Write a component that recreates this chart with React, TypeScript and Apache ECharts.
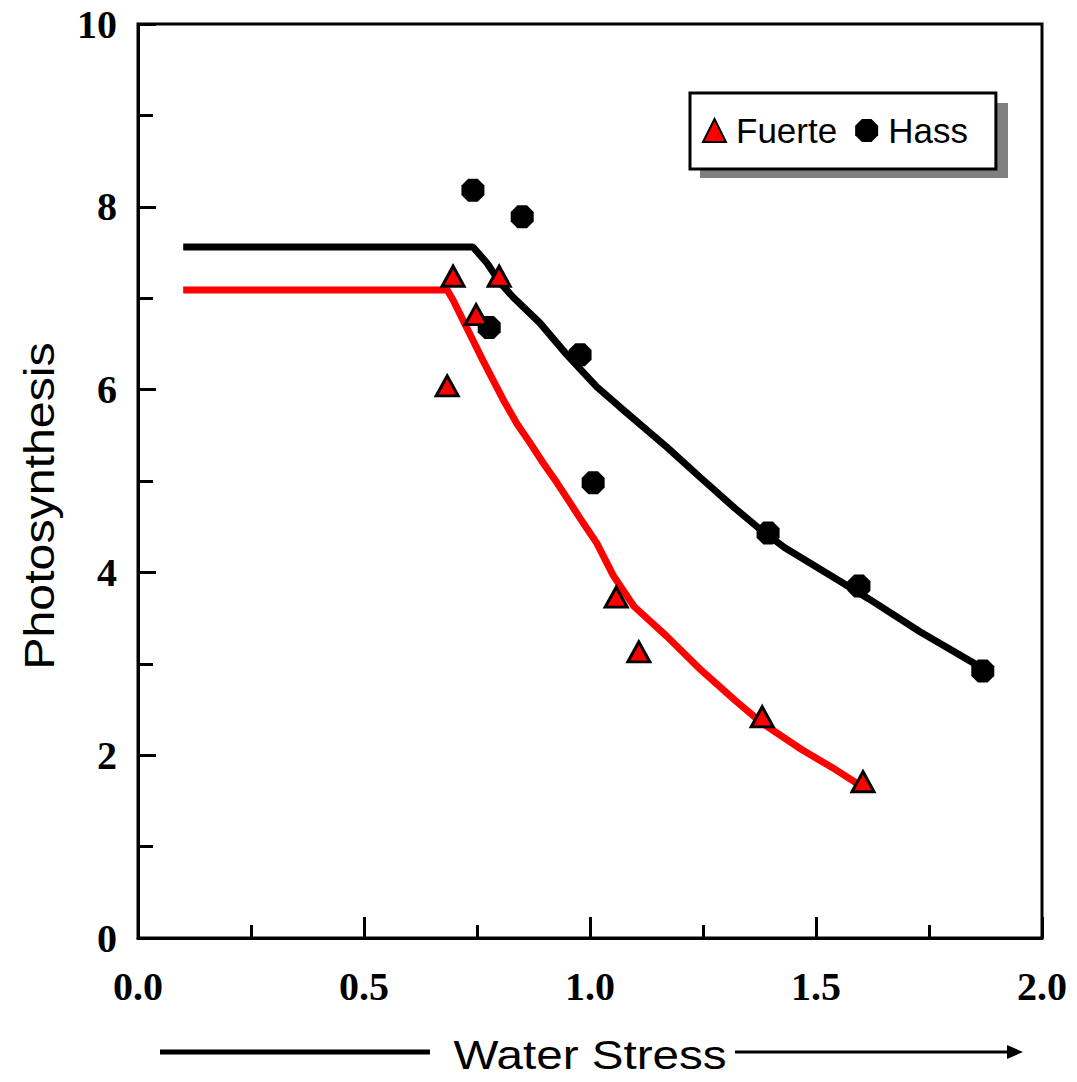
import React, { useEffect, useRef } from 'react';
import * as echarts from 'echarts';

// Measured points
const fuerteX = [0.684, 0.697, 0.748, 0.799, 1.058, 1.108, 1.381, 1.604];
const fuerteY = [6.04, 7.24, 6.82, 7.24, 3.73, 3.13, 2.42, 1.71];
const hassX = [0.741, 0.777, 0.85, 0.978, 1.007, 1.394, 1.595, 1.869];
const hassY = [8.18, 6.68, 7.89, 6.38, 4.98, 4.43, 3.85, 2.92];

// Fitted curves
const hassCurveX = [0.1, 0.741, 0.772, 0.801, 0.83, 0.889, 0.949, 1.015, 1.066, 1.17, 1.246, 1.321, 1.372, 1.431, 1.544, 1.617, 1.73, 1.869];
const hassCurveY = [7.56, 7.56, 7.385, 7.17, 7.01, 6.73, 6.38, 6.03, 5.81, 5.37, 5.03, 4.7, 4.49, 4.27, 3.93, 3.71, 3.35, 2.95];
const fuerteCurveX = [0.1, 0.684, 0.697, 0.719, 0.741, 0.763, 0.785, 0.808, 0.838, 0.867, 0.896, 0.927, 0.956, 0.985, 1.015, 1.051, 1.097, 1.17, 1.246, 1.321, 1.381, 1.469, 1.544, 1.604];
const fuerteCurveY = [7.09, 7.09, 6.98, 6.76, 6.54, 6.32, 6.11, 5.89, 5.63, 5.42, 5.2, 4.98, 4.76, 4.54, 4.32, 3.97, 3.63, 3.3, 2.93, 2.6, 2.35, 2.06, 1.84, 1.65];

const xTicks = [0, 0.5, 1, 1.5, 2];
const yTicks = [0, 2, 4, 6, 8, 10];

const zip = (xs: number[], ys: number[]) => xs.map((x, i) => [x, ys[i]]);

const OCTAGON = 'path://M0.2929 0 L0.7071 0 L1 0.2929 L1 0.7071 L0.7071 1 L0.2929 1 L0 0.7071 L0 0.2929 Z';

export default function App() {
  const ref = useRef<HTMLDivElement>(null);
  useEffect(() => {
    const chart = echarts.init(ref.current!, null, { renderer: 'svg' });
    const serif = '"Liberation Serif", "Times New Roman", serif';
    const sans = '"Liberation Sans", Arial, sans-serif';
    chart.setOption({
      animation: false,
      backgroundColor: '#fff',
      grid: {
        left: 138,
        right: 35,
        top: 24,
        bottom: 144,
        show: true,
        borderColor: '#000',
        borderWidth: 3,
      },
      xAxis: {
        type: 'value',
        min: xTicks[0],
        max: xTicks[xTicks.length - 1],
        interval: 0.5,
        axisLine: { show: true, lineStyle: { color: '#000', width: 3 } },
        axisTick: { show: true, inside: true, length: 21, lineStyle: { color: '#000', width: 3 } },
        minorTick: { show: true, splitNumber: 2, length: 13, lineStyle: { color: '#000', width: 3 } },
        splitLine: { show: false },
        axisLabel: {
          margin: 28,
          fontFamily: serif,
          fontWeight: 'bold',
          fontSize: 40,
          color: '#000',
          formatter: (v: number) => v.toFixed(1),
        },
      },
      yAxis: {
        type: 'value',
        min: yTicks[0],
        max: yTicks[yTicks.length - 1],
        interval: 2,
        axisLine: { show: true, lineStyle: { color: '#000', width: 3 } },
        axisTick: { show: true, inside: true, length: 18, lineStyle: { color: '#000', width: 3 } },
        minorTick: { show: true, splitNumber: 2, length: 15, lineStyle: { color: '#000', width: 3 } },
        splitLine: { show: false },
        axisLabel: {
          margin: 21,
          fontFamily: serif,
          fontWeight: 'bold',
          fontSize: 40,
          color: '#000',
        },
      },
      legend: {
        data: ['Fuerte', 'Hass'],
        left: 690,
        top: 93,
        orient: 'horizontal',
        padding: [20, 28, 21, 12],
        itemGap: 18,
        itemWidth: 23,
        itemHeight: 23,
        backgroundColor: '#fff',
        borderColor: '#000',
        borderWidth: 3,
        borderRadius: 0,
        textStyle: { fontFamily: sans, fontSize: 35, color: '#000', padding: [0, 0, 0, 5] },
        z: 10,
      },
      graphic: [
        {
          type: 'rect',
          z: 5,
          shape: { x: 700, y: 103, width: 308, height: 75 },
          style: { fill: '#808080' },
        },
        {
          type: 'text',
          x: 40,
          y: 506,
          rotation: Math.PI / 2,
          scaleX: 1.15,
          style: {
            text: 'Photosynthesis',
            fontFamily: sans,
            fontSize: 42,
            fill: '#000',
            align: 'center',
            verticalAlign: 'middle',
          },
        },
        {
          type: 'text',
          x: 590,
          y: 1055,
          scaleX: 1.19,
          style: {
            text: 'Water Stress',
            fontFamily: sans,
            fontSize: 40,
            fill: '#000',
            align: 'center',
            verticalAlign: 'middle',
          },
        },
        {
          type: 'line',
          shape: { x1: 160, y1: 1052, x2: 430, y2: 1052 },
          style: { stroke: '#000', lineWidth: 5 },
        },
        {
          type: 'line',
          shape: { x1: 735, y1: 1052, x2: 1010, y2: 1052 },
          style: { stroke: '#000', lineWidth: 3 },
        },
        {
          type: 'polygon',
          shape: { points: [[1007, 1045], [1023, 1052], [1007, 1059]] },
          style: { fill: '#000' },
        },
      ],
      series: [
        {
          name: 'Hass fit',
          type: 'line',
          data: zip(hassCurveX, hassCurveY),
          showSymbol: false,
          smooth: false,
          lineStyle: { color: '#000', width: 7 },
          itemStyle: { color: '#000' },
          z: 2,
        },
        {
          name: 'Fuerte fit',
          type: 'line',
          data: zip(fuerteCurveX, fuerteCurveY),
          showSymbol: false,
          smooth: false,
          lineStyle: { color: '#ff0000', width: 7 },
          itemStyle: { color: '#ff0000' },
          z: 2,
        },
        {
          name: 'Fuerte',
          type: 'scatter',
          data: zip(fuerteX, fuerteY),
          symbol: 'triangle',
          symbolSize: [22, 20],
          itemStyle: { color: '#ff0000', borderColor: '#000', borderWidth: 3, opacity: 1 },
          z: 4,
        },
        {
          name: 'Hass',
          type: 'scatter',
          data: zip(hassX, hassY),
          symbol: OCTAGON,
          symbolSize: 23,
          itemStyle: { color: '#000', opacity: 1 },
          z: 3,
        },
      ],
    });
    return () => chart.dispose();
  }, []);
  return <div ref={ref} style={{ position: 'fixed', left: 0, top: 0, width: 1077, height: 1082 }} />;
}
